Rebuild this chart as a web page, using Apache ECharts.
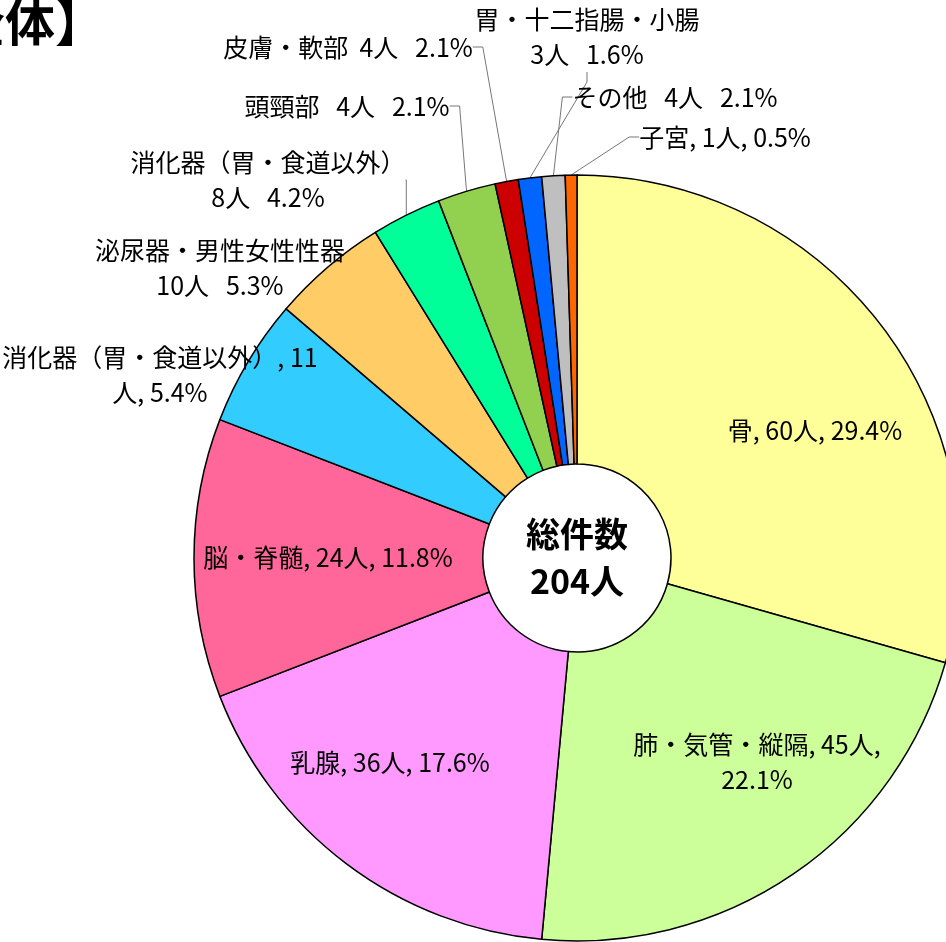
<!DOCTYPE html>
<html>
<head>
<meta charset="utf-8">
<title>総件数 204人</title>
<script src="https://cdn.jsdelivr.net/npm/echarts@6/dist/echarts.min.js"></script>
<style>
	* {
		margin: 0;
		padding: 0
	}
	html, body {
		width: 100%;
		height: 100%;
		background: #fff;
	}
	#main {
		width: 946px;
		height: 942px;
	}
</style>
</head>
<body>
<div id="main"></div>
<script>
// 部位名・件数（円の角度は図から読んだ値）
var names = ['骨', '肺・気管・縦隔', '乳腺', '脳・脊髄', '消化器（胃・食道以外）', '泌尿器・男性女性性器',
	'消化器（胃・食道以外）', '頭頸部', '皮膚・軟部', '胃・十二指腸・小腸', 'その他', '子宮'];
var values = [60, 45, 36, 24, 11, 10, 6, 5, 2, 2, 2, 1];
// ラベル文字（図の表記のまま）
var labelTexts = [
	'骨, 60人, 29.4%',
	'肺・気管・縦隔, 45人,\n22.1%',
	'乳腺, 36人, 17.6%',
	'脳・脊髄, 24人, 11.8%',
	'消化器（胃・食道以外）, 11\n人, 5.4%',
	'泌尿器・男性女性性器\n10人   5.3%',
	'消化器（胃・食道以外）\n8人   4.2%',
	'頭頸部   4人   2.1%',
	'皮膚・軟部  4人   2.1%',
	'胃・十二指腸・小腸\n3人   1.6%',
	'その他   4人   2.1%',
	'子宮, 1人, 0.5%'
];
var colors = ['#FFFF99', '#CCFF99', '#FF99FF', '#FF6699', '#33CCFF', '#FFCC66',
	'#00FF99', '#92D050', '#CC0000', '#0066FF', '#BFBFBF', '#FF6600'];
var totalText = '総件数\n204人';

// ラベルの置き場所
var labelPos = [
	[815, 430], [757, 762], [390, 762], [328, 557], [160, 375], [220, 268],
	[268, 180], [347, 106], [348, 47], [587, 37], [675, 97], [725, 137]
];
var withLine = [false, false, false, false, false, false, true, true, true, true, true, true];

var myChart = echarts.init(document.getElementById('main'));

var pieData = [];
for (var i = 0; i < values.length; i++) {
	pieData.push({
		name: names[i],
		value: values[i],
		itemStyle: { color: colors[i] },
		label: { formatter: labelTexts[i], position: withLine[i] ? 'outside' : 'inside' },
		labelLine: { show: withLine[i] }
	});
}

myChart.setOption({
	animation: false,
	series: [{
		type: 'pie',
		center: [577, 558],
		radius: [94, 383],
		startAngle: 90,
		clockwise: true,
		avoidLabelOverlap: false,
		silent: true,
		itemStyle: {
			borderColor: '#000',
			borderWidth: 1.5
		},
		label: {
			color: '#000',
			fontSize: 25,
			lineHeight: 35,
			fontFamily: '"Noto Sans CJK JP"',
			align: 'center'
		},
		labelLine: {
			length: 10,
			length2: 10,
			lineStyle: { color: '#777', width: 1 }
		},
		labelLayout: function (params) {
			var p = labelPos[params.dataIndex];
			return { x: p[0], y: p[1], align: 'center', verticalAlign: 'middle' };
		},
		data: pieData
	}],
	graphic: [{
		type: 'text',
		x: 577,
		y: 558,
		style: {
			text: totalText,
			font: 'bold 34px "Noto Sans CJK JP"',
			fill: '#000',
			align: 'center',
			verticalAlign: 'middle',
			lineHeight: 47
		}
	}, {
		type: 'text',
		x: -95,
		y: -3,
		style: {
			text: '【全体】',
			font: 'bold 50px "Noto Sans CJK JP"',
			fill: '#000',
			align: 'left',
			verticalAlign: 'top'
		}
	}]
});
</script>
</body>
</html>
